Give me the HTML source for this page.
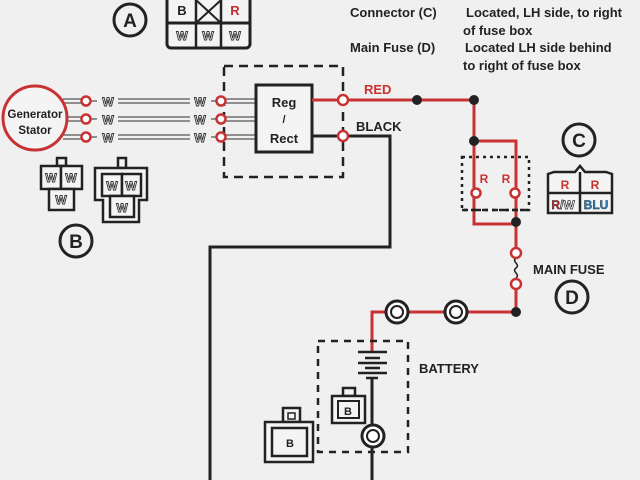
<!DOCTYPE html>
<html><head><meta charset="utf-8"><style>
html,body{margin:0;padding:0;background:#f0f0f0;}
svg{display:block;}
text{font-family:"Liberation Sans",Arial,sans-serif;font-weight:bold;}
.w{fill:#fff;stroke:#333;stroke-width:0.9;font-size:12px;}
</style></head><body>
<svg width="640" height="480" viewBox="0 0 640 480" xmlns="http://www.w3.org/2000/svg">
<rect width="640" height="480" fill="#f0f0f0"/>
<!-- A -->
<circle cx="130" cy="20" r="16" fill="none" stroke="#222" stroke-width="3"/>
<text x="130" y="27" font-size="19" text-anchor="middle" fill="#222">A</text>
<rect x="167" y="-6" width="83" height="54" rx="4" fill="#f4f4f4" stroke="#222" stroke-width="3"/>
<line x1="167" y1="23" x2="250" y2="23" stroke="#222" stroke-width="3"/>
<line x1="196" y1="0" x2="196" y2="48" stroke="#222" stroke-width="2.5"/>
<line x1="221" y1="0" x2="221" y2="48" stroke="#222" stroke-width="2.5"/>
<line x1="196" y1="0" x2="221" y2="23" stroke="#222" stroke-width="2"/>
<line x1="221" y1="0" x2="196" y2="23" stroke="#222" stroke-width="2"/>
<text x="182" y="15" font-size="13" text-anchor="middle" fill="#222">B</text>
<text x="235" y="15" font-size="13" text-anchor="middle" fill="#c03030">R</text>
<text x="182" y="40" class="w" text-anchor="middle">W</text>
<text x="208" y="40" class="w" text-anchor="middle">W</text>
<text x="235" y="40" class="w" text-anchor="middle">W</text>
<!-- top text -->
<g font-size="13" fill="#222">
<text x="350" y="17">Connector  (C)</text>
<text x="466" y="17">Located, LH side, to right</text>
<text x="463" y="35">of fuse box</text>
<text x="350" y="52">Main Fuse  (D)</text>
<text x="465" y="52">Located LH side behind</text>
<text x="463" y="70">to right of fuse box</text>
</g>
<!-- Generator -->
<g stroke="#555" stroke-width="1.2" fill="none">
<path d="M63 99H82M63 103H82M63 117H82M63 121H82M63 135H82M63 139H82"/>
<path d="M90 101H97M90 119H97M90 137H97"/>
<path d="M118 99H190M118 103H190M118 117H190M118 121H190M118 135H190M118 139H190"/>
<path d="M211 101H218M211 119H218M211 137H218"/>
<path d="M225 99H256M225 103H256M225 117H256M225 121H256M225 135H256M225 139H256"/>
</g>
<circle cx="35" cy="118" r="32" fill="#f4f4f4" stroke="#c83232" stroke-width="3"/>
<text x="35" y="118" font-size="11.5" text-anchor="middle" fill="#222">Generator</text>
<text x="35" y="134" font-size="11.5" text-anchor="middle" fill="#222">Stator</text>
<g class="w" text-anchor="middle">
<text x="108" y="106">W</text><text x="108" y="124">W</text><text x="108" y="142">W</text>
<text x="200" y="106">W</text><text x="200" y="124">W</text><text x="200" y="142">W</text>
</g>
<!-- dashed box -->
<rect x="224" y="66" width="119" height="111" fill="none" stroke="#222" stroke-width="2.5" stroke-dasharray="9,6"/>
<g fill="#fff" stroke="#c83232" stroke-width="2.5">
<circle cx="86" cy="101" r="4.5"/><circle cx="86" cy="119" r="4.5"/><circle cx="86" cy="137" r="4.5"/>
<circle cx="221" cy="101" r="4.5"/><circle cx="221" cy="119" r="4.5"/><circle cx="221" cy="137" r="4.5"/>
</g>
<rect x="256" y="85" width="56" height="67" fill="#f4f4f4" stroke="#222" stroke-width="3"/>
<text x="284" y="107" font-size="13" text-anchor="middle" fill="#222">Reg</text>
<text x="284" y="123" font-size="11" text-anchor="middle" fill="#222">/</text>
<text x="284" y="143" font-size="13" text-anchor="middle" fill="#222">Rect</text>
<!-- wires -->
<path d="M312 100H474V141M474 141H516V224H474V141M516 224V312H372V352" fill="none" stroke="#c83232" stroke-width="3"/>
<path d="M312 136H390V247H210V480M372 378V480" fill="none" stroke="#222" stroke-width="3"/>
<circle cx="343" cy="100" r="5" fill="#fff" stroke="#c83232" stroke-width="2.5"/>
<circle cx="343" cy="136" r="5" fill="#fff" stroke="#c83232" stroke-width="2.5"/>
<text x="364" y="94" font-size="13" fill="#c83232">RED</text>
<text x="356" y="131" font-size="13" fill="#222">BLACK</text>
<circle cx="417" cy="100" r="5" fill="#222"/>
<circle cx="474" cy="100" r="5" fill="#222"/>
<circle cx="474" cy="141" r="5" fill="#222"/>
<circle cx="516" cy="222" r="5" fill="#222"/>
<circle cx="516" cy="312" r="5" fill="#222"/>
<rect x="462" y="157" width="67" height="53" fill="none" stroke="#222" stroke-width="2.5" stroke-dasharray="3,4"/>
<line x1="462" y1="210" x2="529" y2="210" stroke="#222" stroke-width="2.5" stroke-dasharray="6,4"/>
<text x="484" y="183" font-size="12" text-anchor="middle" fill="#c83232">R</text>
<text x="506" y="183" font-size="12" text-anchor="middle" fill="#c83232">R</text>
<circle cx="476" cy="193" r="4.5" fill="#fff" stroke="#c83232" stroke-width="2.5"/>
<circle cx="515" cy="193" r="4.5" fill="#fff" stroke="#c83232" stroke-width="2.5"/>
<!-- fuse -->
<rect x="510" y="258" width="12" height="20" fill="#f0f0f0"/>
<path d="M516 258c-5 4 5 6 0 10s5 6 0 10" fill="none" stroke="#222" stroke-width="1.5"/>
<circle cx="516" cy="253" r="5" fill="#fff" stroke="#c83232" stroke-width="2.5"/>
<circle cx="516" cy="284" r="5" fill="#fff" stroke="#c83232" stroke-width="2.5"/>
<text x="533" y="274" font-size="13" fill="#222">MAIN FUSE</text>
<circle cx="572" cy="297" r="16" fill="none" stroke="#222" stroke-width="3"/>
<text x="572" y="304" font-size="19" text-anchor="middle" fill="#222">D</text>
<!-- C -->
<circle cx="579" cy="140" r="16" fill="none" stroke="#222" stroke-width="3"/>
<text x="579" y="147" font-size="19" text-anchor="middle" fill="#222">C</text>
<path d="M548 213V174L554 172H575L580 166L585 172H606L612 174V213Z" fill="#f4f4f4" stroke="#222" stroke-width="2.5"/>
<line x1="548" y1="193" x2="612" y2="193" stroke="#222" stroke-width="2.5"/>
<line x1="580" y1="172" x2="580" y2="213" stroke="#222" stroke-width="2.5"/>
<text x="565" y="189" font-size="12" text-anchor="middle" fill="#c83232">R</text>
<text x="595" y="189" font-size="12" text-anchor="middle" fill="#c83232">R</text>
<text x="563" y="209" font-size="12" text-anchor="middle" fill="#c83232" stroke="#222" stroke-width="0.4">R<tspan fill="#fff" stroke="#333" stroke-width="0.7">/W</tspan></text>
<text x="596" y="209" font-size="12" text-anchor="middle" fill="#2a8ac8" stroke="#222" stroke-width="0.4">BLU</text>
<!-- B connectors -->
<g fill="#f4f4f4" stroke="#222" stroke-width="2.5">
<rect x="57" y="158" width="9" height="8"/>
<rect x="41" y="166" width="20" height="23"/><rect x="61" y="166" width="21" height="23"/>
<rect x="49" y="189" width="25" height="21"/>
<rect x="118" y="158" width="8" height="10"/>
<path d="M95 168H147V200H139V222H103V200H95Z"/>
<rect x="102" y="174" width="20" height="22"/><rect x="122" y="174" width="19" height="22"/>
<rect x="110" y="196" width="24" height="21"/>
</g>
<g class="w" text-anchor="middle">
<text x="51" y="182">W</text><text x="71" y="182">W</text><text x="61" y="204">W</text>
<text x="112" y="190">W</text><text x="131" y="190">W</text><text x="122" y="212">W</text>
</g>
<circle cx="76" cy="241" r="16" fill="none" stroke="#222" stroke-width="3"/>
<text x="76" y="248" font-size="19" text-anchor="middle" fill="#222">B</text>
<!-- terminals -->
<g fill="#fff" stroke="#222">
<circle cx="397" cy="312" r="11" stroke-width="3"/><circle cx="397" cy="312" r="6" stroke-width="2"/>
<circle cx="456" cy="312" r="11" stroke-width="3"/><circle cx="456" cy="312" r="6" stroke-width="2"/>
</g>
<!-- battery -->
<rect x="318" y="341" width="90" height="111" fill="none" stroke="#222" stroke-width="2.5" stroke-dasharray="7,6"/>
<g stroke="#222" stroke-width="2.5">
<line x1="358" y1="352" x2="387" y2="352"/><line x1="365" y1="358" x2="380" y2="358"/>
<line x1="358" y1="363" x2="387" y2="363"/><line x1="365" y1="368" x2="380" y2="368"/>
<line x1="358" y1="373" x2="387" y2="373"/><line x1="366" y1="378" x2="378" y2="378"/>
</g>
<text x="419" y="373" font-size="13" fill="#222">BATTERY</text>
<circle cx="373" cy="436" r="11" fill="#fff" stroke="#222" stroke-width="3"/>
<circle cx="373" cy="436" r="6" fill="#fff" stroke="#222" stroke-width="2"/>
<g fill="#f4f4f4" stroke="#222" stroke-width="2.5">
<rect x="343" y="388" width="12" height="8"/>
<rect x="332" y="396" width="33" height="27"/><rect x="338" y="401" width="21" height="17" stroke-width="2"/>
<rect x="283" y="408" width="17" height="14"/><rect x="288" y="413" width="7" height="6" stroke-width="1.5"/>
<rect x="265" y="422" width="48" height="40"/><rect x="272" y="428" width="35" height="28"/>
</g>
<text x="348" y="415" font-size="11" text-anchor="middle" fill="#222">B</text>
<text x="290" y="447" font-size="11" text-anchor="middle" fill="#222">B</text>
</svg>
</body></html>
